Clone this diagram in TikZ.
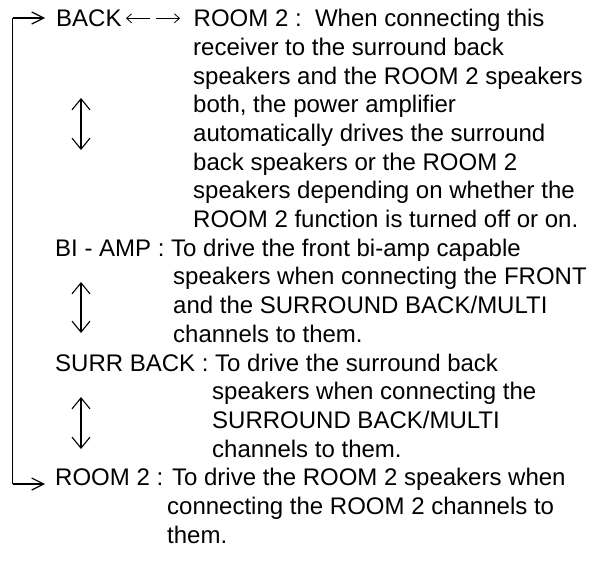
\documentclass[tikz,border=0pt]{standalone}
\usepackage{fontspec}
\setmainfont{Liberation Sans}
\usetikzlibrary{arrows.meta}
\begin{document}
\begin{tikzpicture}[x=1pt,y=-1pt,
  txt/.style={anchor=base west,inner sep=0pt,font=\fontsize{24pt}{28.8pt}\selectfont},
  loopline/.style={line width=1.3pt,line cap=butt},
  loophead/.style={-{Straight Barb[length=12pt,width=12pt,line width=1.2pt]}},
  updown/.style={line width=1.1pt,{Straight Barb[length=11pt,width=18pt]}-{Straight Barb[length=11pt,width=18pt]}},
  smallarr/.style={line width=0.8pt,-{Straight Barb[length=5pt,width=9pt]}}]
\useasboundingbox (0,0) rectangle (598,562);
% line 1
\node[txt] (back) at (56,26.6) {BACK};
\node[txt] (r2a) at (193.5,26.6) {ROOM 2 :\ \ When connecting this};
\coordinate (la1) at (150,18.3);
\coordinate (la2) at (126,18.3);
\coordinate (ra1) at (156,18.3);
\coordinate (ra2) at (180,18.3);
\draw[smallarr] (la1) -- (la2);
\draw[smallarr] (ra1) -- (ra2);
\node[txt] (l2) at (193,55.3) {receiver to the surround back};
\node[txt] (l3) at (193,84.0) {speakers and the ROOM 2 speakers};
\node[txt] (l4) at (193,112.7) {both, the power amplifier};
\node[txt] (l5) at (193,141.4) {automatically drives the surround};
\node[txt] (l6) at (193,170.1) {back speakers or the ROOM 2};
\node[txt] (l7) at (193,198.8) {speakers depending on whether the};
\node[txt] (l8) at (193,227.5) {ROOM 2 function is turned off or on.};
% BI-AMP
\node[txt] (bi) at (55,256.2) {BI - AMP : To drive the front bi-amp capable};
\node[txt] (b2) at (173,284.9) {speakers when connecting the FRONT};
\node[txt] (b3) at (173,313.6) {and the SURROUND BACK/MULTI};
\node[txt] (b4) at (173,342.3) {channels to them.};
% SURR BACK
\node[txt] (sb) at (55,371.0) {SURR BACK : To drive the surround back};
\node[txt] (s2) at (212,399.7) {speakers when connecting the};
\node[txt] (s3) at (212,428.4) {SURROUND BACK/MULTI};
\node[txt] (s4) at (212,457.1) {channels to them.};
% ROOM 2
\node[txt] (rm) at (55,485.8) {ROOM 2 : To drive the ROOM 2 speakers when};
\node[txt] (m2) at (167,514.5) {connecting the ROOM 2 channels to};
\node[txt] (m3) at (167,543.2) {them.};
% double arrows
\coordinate (u1a) at (81,98); \coordinate (u1b) at (81,150);
\coordinate (u2a) at (81,282); \coordinate (u2b) at (81,333);
\coordinate (u3a) at (81,397); \coordinate (u3b) at (81,449);
\draw[updown] (u1a) -- (u1b);
\draw[updown] (u2a) -- (u2b);
\draw[updown] (u3a) -- (u3b);
% loop
\coordinate (ltop) at (12.7,18);
\coordinate (lbot) at (12.7,484);
\coordinate (ttip) at (45,18);
\coordinate (btip) at (45,484);
\draw[loopline] (lbot) -- (ltop);
\draw[loopline,loophead] (ltop) -- (ttip);
\draw[loopline,loophead] (lbot) -- (btip);
\end{tikzpicture}
\end{document}
